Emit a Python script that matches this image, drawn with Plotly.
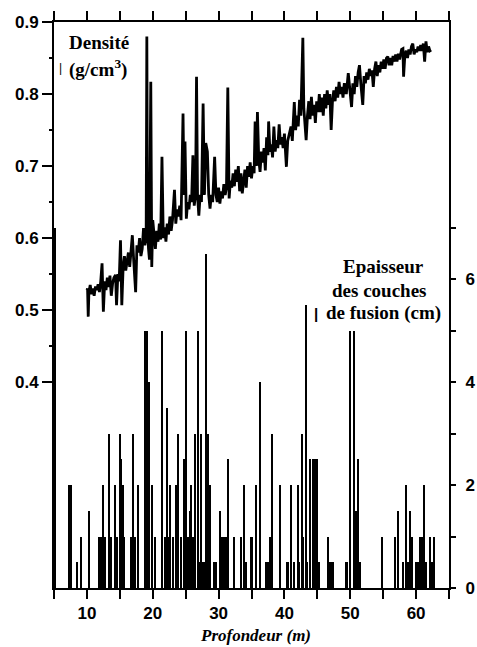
import plotly.graph_objects as go

# Density profile (depth in m, density in g/cm3)
density_depth = [
    10.0, 10.1, 10.2, 10.3, 10.5, 10.7, 10.9, 11.1, 11.3, 11.5, 11.7, 11.9, 12.1, 12.3, 12.4, 12.5,
    12.7, 12.9, 13.1, 13.3, 13.5, 13.7, 13.9, 14.1, 14.35, 14.5, 14.7, 14.9, 15.1, 15.3, 15.5, 15.7,
    15.9, 16.1, 16.3, 16.5, 16.7, 16.9, 17.1, 17.4, 17.6, 17.8, 18.0, 18.2, 18.4, 18.6, 18.8, 19.0,
    19.1, 19.2, 19.35, 19.5, 19.7, 19.85, 20.0, 20.2, 20.4, 20.6, 20.8, 21.0, 21.2, 21.4, 21.6, 21.8,
    22.0, 22.2, 22.4, 22.6, 22.8, 23.0, 23.3, 23.5, 23.7, 23.9, 24.1, 24.3, 24.6, 24.75, 24.9, 25.1,
    25.3, 25.5, 25.7, 25.9, 26.1, 26.3, 26.5, 26.65, 26.8, 27.0, 27.2, 27.4, 27.65, 27.85, 28.05, 28.3,
    28.5, 28.7, 28.9, 29.1, 29.4, 29.6, 29.8, 30.0, 30.2, 30.4, 30.6, 30.8, 31.0, 31.2, 31.4, 31.6,
    31.8, 32.0, 32.2, 32.4, 32.6, 32.8, 33.0, 33.2, 33.4, 33.6, 33.8, 34.0, 34.2, 34.4, 34.6, 34.8,
    35.0, 35.2, 35.4, 35.55, 35.75, 35.9, 36.1, 36.3, 36.5, 36.7, 36.9, 37.1, 37.3, 37.5, 37.6, 37.8,
    38.0, 38.2, 38.4, 38.6, 38.8, 39.0, 39.2, 39.4, 39.6, 39.8, 40.0, 40.3, 40.5, 40.7, 41.0, 41.2,
    41.5, 41.7, 41.9, 42.1, 42.3, 42.5, 42.8, 42.95, 43.1, 43.3, 43.5, 43.7, 43.9, 44.1, 44.3, 44.5,
    44.7, 44.9, 45.1, 45.3, 45.5, 45.7, 45.9, 46.1, 46.3, 46.5, 46.7, 46.9, 47.1, 47.3, 47.5, 47.7,
    47.9, 48.1, 48.3, 48.5, 48.7, 48.9, 49.1, 49.4, 49.7, 49.9, 50.2, 50.4, 50.6, 50.8, 51.0, 51.2,
    51.4, 51.6, 51.9, 52.1, 52.3, 52.5, 52.7, 52.9, 53.1, 53.3, 53.5, 53.7, 53.9, 54.1, 54.3, 54.5,
    54.7, 54.9, 55.1, 55.3, 55.5, 55.7, 55.9, 56.1, 56.3, 56.5, 56.7, 56.9, 57.1, 57.3, 57.5, 57.8,
    58.0, 58.1, 58.3, 58.5, 58.7, 58.9, 59.1, 59.3, 59.5, 59.7, 59.9, 60.1, 60.3, 60.5, 60.7, 60.9,
    61.1, 61.3, 61.5, 61.7, 61.9, 62.1, 62.3,
]
density_value = [
    0.528, 0.530, 0.491, 0.525, 0.535, 0.522, 0.530, 0.520, 0.533, 0.528, 0.536, 0.525, 0.540, 0.565, 0.530, 0.498,
    0.540, 0.528, 0.545, 0.532, 0.548, 0.520, 0.537, 0.545, 0.549, 0.507, 0.550, 0.540, 0.597, 0.507, 0.560, 0.575,
    0.555, 0.570, 0.580, 0.560, 0.578, 0.604, 0.570, 0.525, 0.590, 0.580, 0.600, 0.575, 0.585, 0.614, 0.590, 0.600,
    0.880, 0.620, 0.586, 0.570, 0.817, 0.560, 0.625, 0.600, 0.585, 0.610, 0.595, 0.620, 0.598, 0.713, 0.600, 0.615,
    0.595, 0.620, 0.605, 0.630, 0.610, 0.625, 0.667, 0.620, 0.640, 0.630, 0.645, 0.625, 0.773, 0.660, 0.734, 0.627,
    0.650, 0.640, 0.660, 0.650, 0.715, 0.645, 0.660, 0.824, 0.660, 0.631, 0.660, 0.650, 0.787, 0.660, 0.732, 0.720,
    0.660, 0.641, 0.660, 0.650, 0.713, 0.660, 0.650, 0.670, 0.648, 0.665, 0.655, 0.675, 0.660, 0.670, 0.809, 0.655,
    0.680, 0.670, 0.690, 0.672, 0.695, 0.678, 0.700, 0.665, 0.690, 0.662, 0.685, 0.695, 0.670, 0.700, 0.685, 0.705,
    0.683, 0.700, 0.690, 0.762, 0.700, 0.775, 0.710, 0.692, 0.720, 0.705, 0.725, 0.694, 0.740, 0.715, 0.762, 0.720,
    0.730, 0.712, 0.755, 0.720, 0.736, 0.725, 0.758, 0.730, 0.740, 0.725, 0.745, 0.699, 0.735, 0.745, 0.755, 0.735,
    0.789, 0.750, 0.770, 0.755, 0.792, 0.770, 0.878, 0.780, 0.760, 0.736, 0.770, 0.790, 0.765, 0.796, 0.770, 0.785,
    0.760, 0.790, 0.775, 0.800, 0.775, 0.795, 0.770, 0.800, 0.780, 0.805, 0.785, 0.800, 0.750, 0.790, 0.805, 0.790,
    0.810, 0.795, 0.817, 0.800, 0.810, 0.795, 0.815, 0.800, 0.829, 0.805, 0.782, 0.815, 0.800, 0.825, 0.810, 0.830,
    0.840, 0.815, 0.785, 0.825, 0.815, 0.830, 0.820, 0.835, 0.825, 0.833, 0.810, 0.835, 0.845, 0.825, 0.840, 0.830,
    0.845, 0.835, 0.848, 0.835, 0.850, 0.852, 0.840, 0.850, 0.840, 0.853, 0.845, 0.855, 0.845, 0.856, 0.848, 0.862,
    0.863, 0.824, 0.855, 0.860, 0.850, 0.862, 0.855, 0.866, 0.870, 0.855, 0.862, 0.858, 0.866, 0.860, 0.868, 0.860,
    0.870, 0.845, 0.873, 0.858, 0.866, 0.860, 0.861,
]

# Melt layer thickness (depth in m, thickness in cm)
melt_depth = [
    5.2, 7.35, 7.65, 8.6, 9.2, 10.4, 11.9, 12.2, 12.5, 12.8, 13.45, 13.75, 14.35, 14.6, 15.0, 15.2,
    15.5, 15.7, 16.75, 17.1, 17.4, 17.75, 18.9, 19.2, 19.5, 19.9, 20.4, 21.45, 21.95, 22.25, 22.55, 22.7,
    23.1, 23.5, 23.8, 24.35, 24.75, 25.05, 25.35, 25.65, 25.9, 26.15, 26.45, 26.85, 27.1, 27.35, 27.6, 27.85,
    28.1, 28.35, 28.75, 29.35, 29.6, 30.2, 30.55, 30.85, 31.15, 31.45, 32.3, 33.5, 33.85, 34.2, 34.95, 35.15,
    35.7, 36.25, 37.2, 37.45, 37.7, 37.85, 38.1, 39.4, 40.4, 40.65, 41.1, 41.45, 42.05, 42.3, 42.7, 42.9,
    43.3, 43.5, 43.85, 44.3, 44.7, 45.05, 45.25, 46.65, 46.9, 47.2, 47.45, 49.35, 49.6, 49.95, 50.55, 50.85,
    51.15, 51.45, 54.9, 56.9, 57.3, 58.1, 58.5, 58.75, 59.1, 59.4, 60.0, 60.3, 60.6, 60.9, 61.25, 61.5,
    62.1, 62.4, 62.8,
]
melt_thickness = [
    7.0, 2, 2, 0.5, 1, 1.5, 1, 1, 2, 1, 3, 1, 2, 1, 3, 2.5,
    2, 1, 1, 3, 1, 2, 5, 5, 4, 2, 1, 5, 1, 3.5, 1, 2,
    1, 2, 3, 1, 2.5, 5, 1, 1.5, 2, 1, 3, 5, 0.5, 3, 0.5, 0.5,
    6.5, 3, 2, 0.5, 0.5, 1.5, 1, 1, 1, 2.5, 1, 1, 2, 0.5, 1, 1,
    2, 4, 0.5, 0.5, 0.5, 1, 3, 2, 0.5, 0.5, 2, 0.5, 2, 0.5, 3, 1,
    5.5, 0.5, 2.5, 2.5, 2.5, 2.5, 0.5, 1, 0.5, 0.5, 0.5, 0.5, 0.5, 5, 5, 1.5,
    2.5, 0.5, 1, 1, 1.5, 0.5, 2, 0.5, 1.5, 1, 0.5, 0.5, 1, 1, 2, 0.5,
    1, 0.5, 1,
]

x_ticks = [10, 20, 30, 40, 50, 60]
x_minor = [5, 15, 25, 35, 45, 55, 65]
y_ticks = [0.4, 0.5, 0.6, 0.7, 0.8, 0.9]
y_tick_text = ["0.4", "0.5", "0.6", "0.7", "0.8", "0.9"]
y_minor = [0.45, 0.55, 0.65, 0.75, 0.85]
y2_ticks = [0, 2, 4, 6]
y2_minor = [1, 3, 5, 7]

tick_font = dict(family="Liberation Sans", size=17, color="black", weight="bold")
serif_bold = dict(family="Liberation Serif", size=19, color="black", weight="bold")

fig = go.Figure()
fig.add_trace(go.Bar(
    x=melt_depth, y=melt_thickness, width=0.22, yaxis="y2",
    marker=dict(color="black", line=dict(width=0)), showlegend=False,
))
fig.add_trace(go.Scatter(
    x=density_depth, y=density_value, mode="lines", yaxis="y",
    line=dict(color="black", width=2.8), showlegend=False,
))

fig.update_layout(
    width=477, height=647,
    margin=dict(l=54, r=28, t=22, b=59, autoexpand=False),
    paper_bgcolor="white", plot_bgcolor="white",
    bargap=0,
    xaxis=dict(
        range=[5, 65], tickvals=x_ticks, ticks="outside", ticklen=9, tickwidth=2,
        tickcolor="black", showline=True, linewidth=2, linecolor="black",
        mirror="allticks", showgrid=False, zeroline=False, tickfont=tick_font,
        automargin=False,
        minor=dict(tickvals=x_minor, ticks="outside", ticklen=4, tickwidth=2, tickcolor="black", showgrid=False),
    ),
    yaxis=dict(
        range=[0.1143, 0.9], tickvals=y_ticks, ticktext=y_tick_text, ticks="outside",
        ticklen=10, tickwidth=2, tickcolor="black", showline=True, linewidth=2,
        linecolor="black", showgrid=False, zeroline=False, tickfont=tick_font,
        automargin=False,
        minor=dict(tickvals=y_minor, ticks="outside", ticklen=3, tickwidth=2, tickcolor="black", showgrid=False),
    ),
    yaxis2=dict(
        range=[0, 11], overlaying="y", side="right", tickvals=y2_ticks, ticks="outside",
        ticklen=5, tickwidth=2, tickcolor="black", showline=True, linewidth=2,
        linecolor="black", showgrid=False, zeroline=False, tickfont=tick_font,
        ticklabelstandoff=6, automargin=False,
        minor=dict(tickvals=y2_minor, ticks="outside", ticklen=5, tickwidth=2, tickcolor="black", showgrid=False),
    ),
)

annotations = [
    dict(text="Densité", x=0.034, y=0.9646, xanchor="left", yanchor="middle", font=serif_bold),
    dict(text="(g/cm<sup>3</sup>)", x=0.034, y=0.918, xanchor="left", yanchor="middle", font=serif_bold),
    dict(text="|", x=0.016, y=0.918, xanchor="center", yanchor="middle",
         font=dict(family="Liberation Sans", size=12, color="black")),
    dict(text="Epaisseur", x=0.835, y=0.5687, xanchor="center", yanchor="middle", font=serif_bold),
    dict(text="des couches", x=0.8224, y=0.5263, xanchor="center", yanchor="middle", font=serif_bold),
    dict(text="de fusion (cm)", x=0.835, y=0.4856, xanchor="center", yanchor="middle", font=serif_bold),
    dict(text="|", x=0.664, y=0.4856, xanchor="center", yanchor="middle",
         font=dict(family="Liberation Sans", size=15, color="black", weight="bold")),
    dict(text="Profondeur (m)", x=0.51, y=-0.0845, xanchor="center", yanchor="middle",
         font=dict(family="Liberation Serif", size=17, color="black", weight="bold", style="italic")),
]
for a in annotations:
    a.update(xref="paper", yref="paper", showarrow=False)
fig.update_layout(annotations=annotations)

fig.write_html(
    "out.html",
    config={"displayModeBar": False},
    post_script="document.body.style.margin='0';document.body.style.overflow='hidden';",
)
